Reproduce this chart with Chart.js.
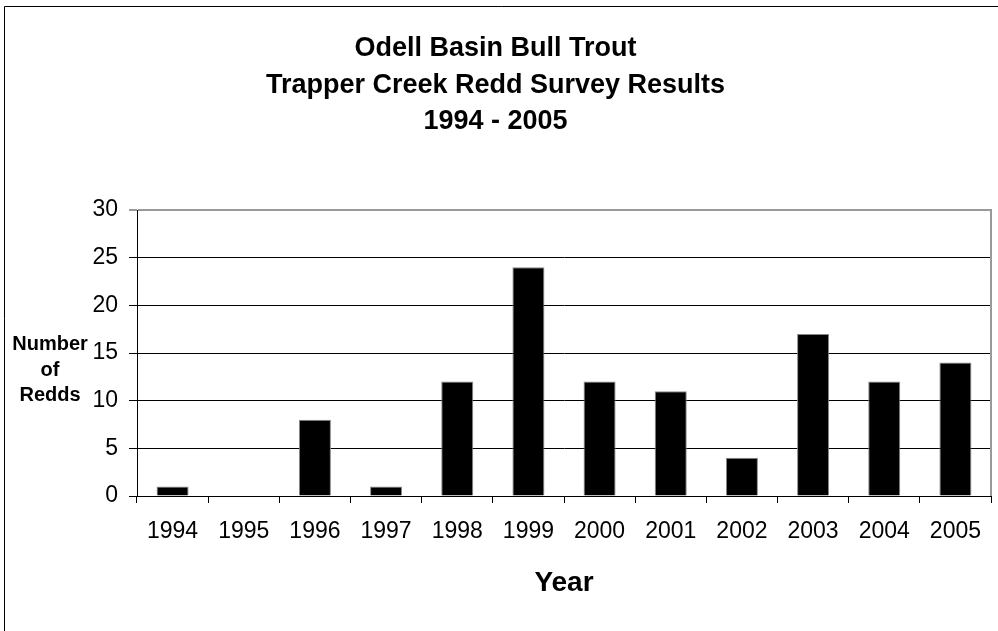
<!DOCTYPE html>
<html>
<head>
<meta charset="utf-8">
<title>Trapper Creek Redd Survey Results</title>
<script src="https://cdn.jsdelivr.net/npm/chart.js@4/dist/chart.umd.min.js"></script>
<style>
  html, body { margin: 0; padding: 0; background: #fff; }
  #wrap { width: 998px; height: 631px; }
</style>
</head>
<body>
<div id="wrap"><canvas id="chart" width="998" height="631"></canvas></div>
<script>
// Survey years and redd counts
const years = ['1994', '1995', '1996', '1997', '1998', '1999', '2000', '2001', '2002', '2003', '2004', '2005'];
const redds = [1, 0, 8, 1, 12, 24, 12, 11, 4, 17, 12, 14];

// Axis range and tick labels
const yTicks = [0, 5, 10, 15, 20, 25, 30];

// Text
const titleLines = ['Odell Basin Bull Trout', 'Trapper Creek Redd Survey Results', '1994 - 2005'];
const xTitle = 'Year';
const yTitleLines = ['Number', 'of', 'Redds'];

const FONT = "'Liberation Sans', Arial, Helvetica, sans-serif";

// Outer frame, grey plot border on the right, and the horizontal y-axis title
const decorations = {
  id: 'decorations',
  beforeDraw(chart) {
    const ctx = chart.ctx;
    ctx.save();
    ctx.fillStyle = '#fff';
    ctx.fillRect(0, 0, chart.width, chart.height);
    ctx.strokeStyle = '#000';
    ctx.lineWidth = 1;
    ctx.beginPath();
    ctx.moveTo(4.5, chart.height);
    ctx.lineTo(4.5, 6.5);
    ctx.lineTo(chart.width, 6.5);
    ctx.stroke();
    ctx.restore();
  },
  afterDraw(chart) {
    const ctx = chart.ctx;
    const a = chart.chartArea;
    ctx.save();
    ctx.strokeStyle = '#999';
    ctx.lineWidth = 2;
    ctx.beginPath();
    ctx.moveTo(a.right, a.top - 1);
    ctx.lineTo(a.right, a.bottom);
    ctx.stroke();

    ctx.fillStyle = '#000';
    ctx.font = 'bold 20px ' + FONT;
    ctx.textAlign = 'center';
    ctx.textBaseline = 'middle';
    const cx = 50;
    const cy = (a.top + a.bottom) / 2 + 17;
    const lh = 25.5;
    yTitleLines.forEach((t, i) => {
      ctx.fillText(t, cx, cy + (i - (yTitleLines.length - 1) / 2) * lh);
    });
    ctx.restore();
  }
};

new Chart(document.getElementById('chart'), {
  type: 'bar',
  data: {
    labels: years,
    datasets: [{
      data: redds,
      backgroundColor: '#000',
      borderColor: '#888',
      borderWidth: 1,
      barPercentage: 0.45,
      categoryPercentage: 1.0
    }]
  },
  options: {
    responsive: false,
    animation: false,
    devicePixelRatio: 1,
    layout: { padding: { left: 0, right: 7, top: 0, bottom: 0 } },
    plugins: {
      legend: { display: false },
      tooltip: { enabled: false },
      title: {
        display: true,
        text: titleLines,
        color: '#000',
        font: { family: FONT, size: 27, weight: 'bold', lineHeight: 36.75 / 27 },
        padding: { top: 30, bottom: 69.75 }
      }
    },
    scales: {
      x: {
        grid: {
          display: true,
          drawOnChartArea: false,
          drawTicks: true,
          tickLength: 7,
          color: '#000',
          offset: true
        },
        border: { display: true, color: '#000', width: 1 },
        ticks: {
          color: '#000',
          font: { family: FONT, size: 23 },
          padding: 15,
          maxRotation: 0,
          autoSkip: false
        },
        title: {
          display: true,
          text: xTitle,
          color: '#000',
          font: { family: FONT, size: 28, weight: 'bold', lineHeight: 1.2 },
          padding: { top: 0, bottom: 31.2 }
        },
        afterFit(scale) { scale.height = 135; }
      },
      y: {
        min: yTicks[0],
        max: yTicks[yTicks.length - 1],
        afterBuildTicks(scale) { scale.ticks = yTicks.map(v => ({ value: v })); },
        grid: {
          color: ctx => (ctx.tick && ctx.tick.value === yTicks[yTicks.length - 1]) ? '#999' : '#000',
          lineWidth: ctx => (ctx.tick && ctx.tick.value === yTicks[yTicks.length - 1]) ? 2 : 1,
          tickLength: 8,
          drawTicks: true
        },
        border: { display: true, color: '#000', width: 1 },
        ticks: {
          color: '#000',
          font: { family: FONT, size: 23 },
          padding: 11
        },
        afterFit(scale) { scale.width = 137; }
      }
    }
  },
  plugins: [decorations]
});
</script>
</body>
</html>
